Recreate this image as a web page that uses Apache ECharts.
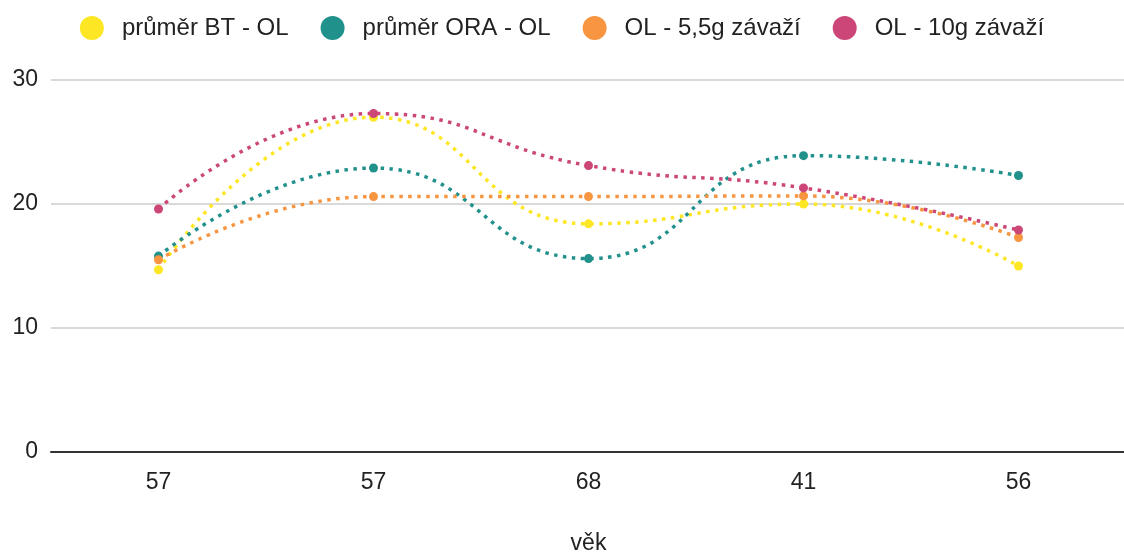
<!DOCTYPE html>
<html>
<head>
<meta charset="utf-8">
<script src="https://cdn.jsdelivr.net/npm/echarts@6/dist/echarts.min.js"></script>
<style>
html,body{margin:0;padding:0;background:#fff;}
#chart{width:1124px;height:554px;}
</style>
</head>
<body>
<div id="chart"></div>
<script>
var categories = ['57', '57', '68', '41', '56'];
var seriesNames = ['průměr BT - OL', 'průměr ORA - OL', 'OL - 5,5g závaží', 'OL - 10g závaží'];
var btValues = [14.7, 27.0, 18.4, 20.0, 15.0];
var oraValues = [15.8, 22.9, 15.6, 23.9, 22.3];
var ol55Values = [15.5, 20.6, 20.6, 20.65, 17.3];
var ol10Values = [19.6, 27.3, 23.1, 21.3, 17.9];
var colors = ['#FDE725', '#21918C', '#F89540', '#CC4778'];
var yTicks = { min: 0, max: 30, interval: 10 };
var xAxisName = 'věk';

var font = 'Liberation Sans, Arial, sans-serif';
function mk(name, data, color) {
  return {
    name: name,
    type: 'line',
    data: data,
    smooth: 0.5,
    symbol: 'circle',
    symbolSize: 9,
    itemStyle: { color: color },
    lineStyle: { color: color, width: 3.5, type: [3.5, 5.5], cap: 'butt' },
    emphasis: { disabled: true }
  };
}
var chart = echarts.init(document.getElementById('chart'), null, { renderer: 'canvas' });
chart.setOption({
  animation: false,
  color: colors,
  legend: {
    top: 11,
    left: 'center',
    icon: 'circle',
    itemWidth: 24,
    itemHeight: 24,
    itemGap: 32,
    textStyle: { fontFamily: font, fontSize: 24, color: '#222', padding: [0, 0, 0, 13] },
    data: seriesNames
  },
  grid: { left: 51, right: -2, top: 80, bottom: 102, containLabel: false, outerBoundsMode: 'none' },
  xAxis: {
    type: 'category',
    data: categories,
    boundaryGap: true,
    name: xAxisName,
    nameLocation: 'middle',
    nameGap: 80,
    nameTextStyle: { fontFamily: font, fontSize: 23, color: '#222' },
    axisLine: { lineStyle: { color: '#333', width: 2 } },
    axisTick: { show: false },
    axisLabel: { fontFamily: font, fontSize: 23, color: '#222', margin: 19 }
  },
  yAxis: {
    type: 'value',
    min: yTicks.min,
    max: yTicks.max,
    interval: yTicks.interval,
    axisLine: { show: false },
    axisTick: { show: false },
    axisLabel: { fontFamily: font, fontSize: 23, color: '#222', margin: 13 },
    splitLine: { lineStyle: { color: '#cccccc', width: 1.5 } }
  },
  series: [
    mk(seriesNames[0], btValues, colors[0]),
    mk(seriesNames[1], oraValues, colors[1]),
    mk(seriesNames[2], ol55Values, colors[2]),
    mk(seriesNames[3], ol10Values, colors[3])
  ]
});
</script>
</body>
</html>
